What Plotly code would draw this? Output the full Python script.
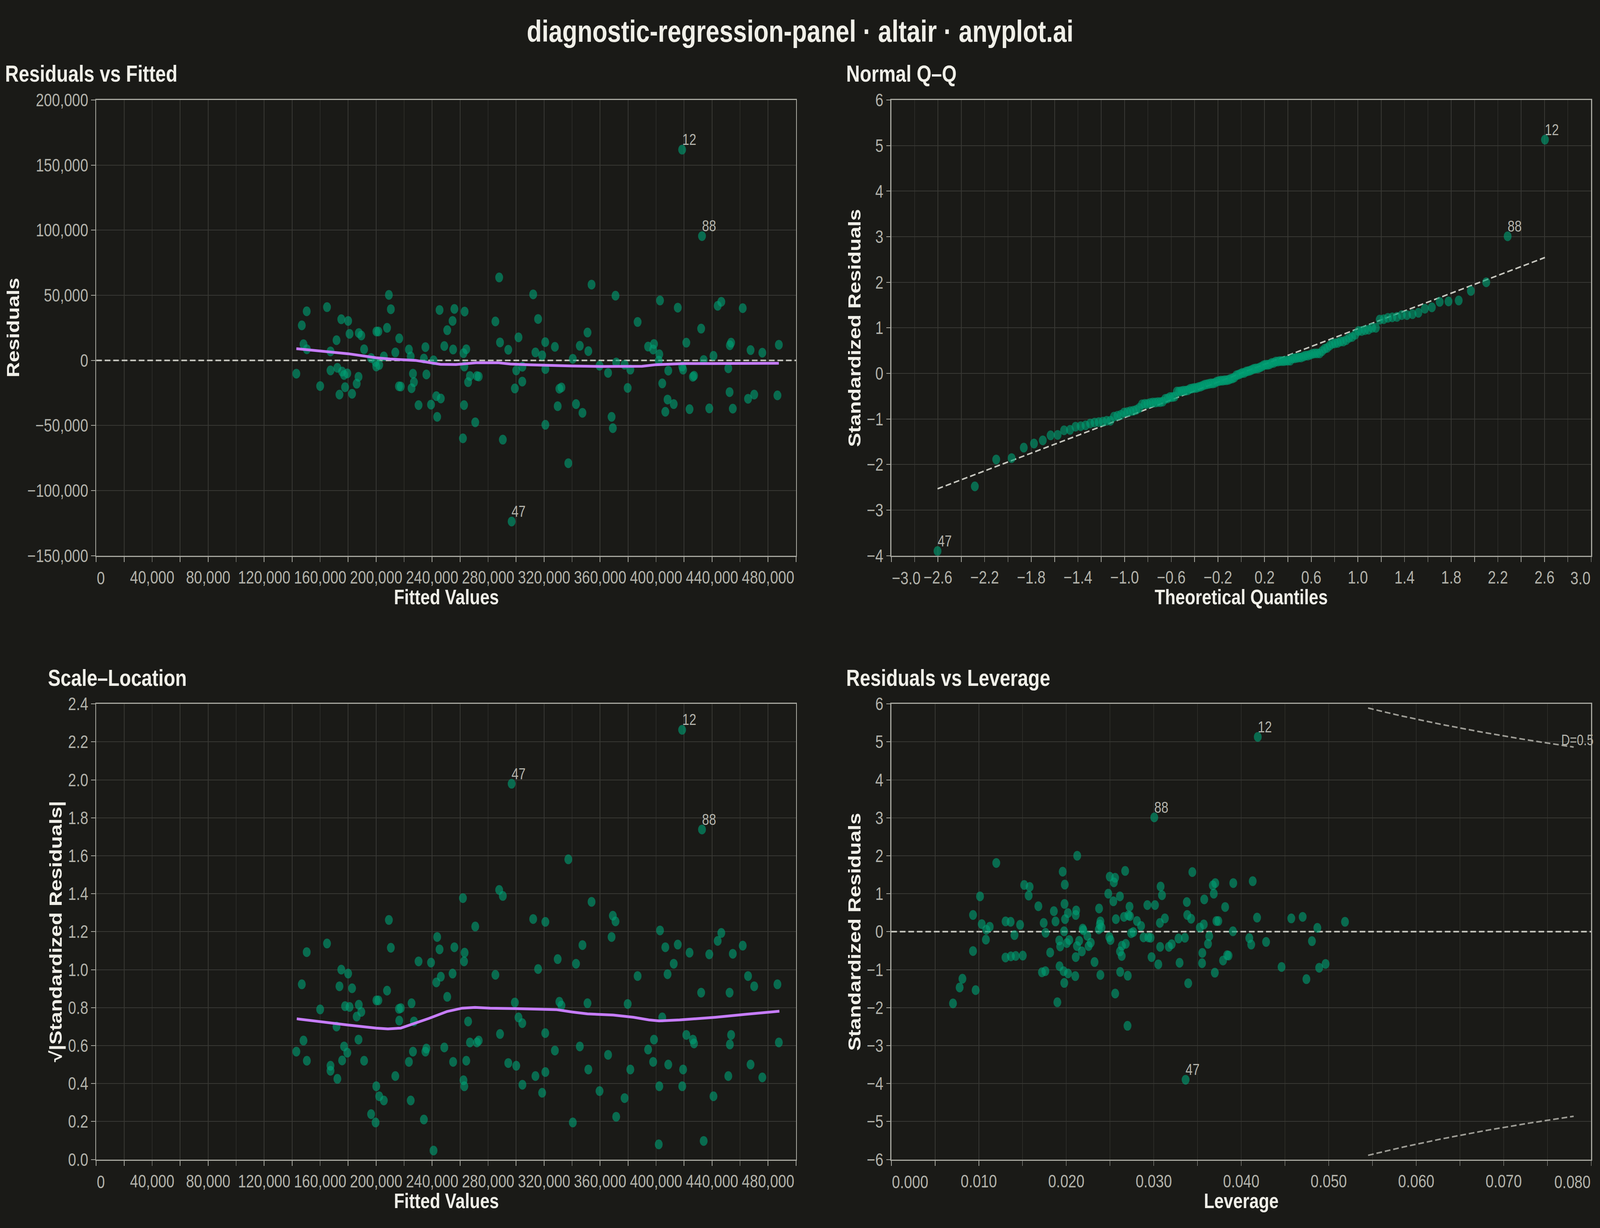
import numpy as np
import plotly.graph_objects as go
from statistics import NormalDist

# ---------------- data ----------------
fitted = [
    143000, 146900, 150400, 148100, 150500, 160000, 164900, 167400, 171700, 167400,
    172300, 175100, 180000, 175700, 177100, 179400, 181000, 177800, 173800, 182800,
    186100, 187400, 187600, 189400, 191400, 196400, 200200, 201600, 199600, 200100,
    202200, 205500, 207800, 209100, 210500, 216500, 213700, 216300, 217600, 223400,
    224700, 226300, 227000, 225300, 230300, 234100, 235200, 235900, 241000, 239200,
    243000, 246200, 243600, 245300, 250800, 248700, 254600, 255900, 255000, 263200,
    262400, 264400, 263000, 267000, 265700, 272000, 273300, 262800, 270800, 262000,
    287900, 285200, 288500, 294400, 301700, 300100, 304500, 304400, 299100, 290500,
    296800, 312200, 315700, 313800, 318600,
    320800, 320900, 320900, 327700, 337300, 330900, 332400, 329700, 340500, 345500,
    351000, 351600, 353900, 342800, 347400, 359600, 365700, 371000, 371500, 377500,
    381600, 379700, 368200, 369100, 386800, 394300, 398500, 397900, 402300, 401900,
    402800, 408700, 404400, 408200, 412600, 406600, 415500, 418600, 421600, 418700,
    419300, 426300, 427100, 423900, 432800, 432200, 434000, 441000, 444000, 446600,
    438000, 452700, 453600, 451600, 452500, 454800, 461900, 467500, 475900, 465700,
    470100, 487700, 486700,
]
residuals = [
    -10200, 26900, 37700, 12400, 8550, -19750, 40900, 6900, 15500, -7700,
    -5700, 31600, 30300, -8600, -11200, -10000, 20400, -20600, -26300, -25700,
    -17900, -12600, 21000, 19100, 8550, 1800, 22200, 22200, -1200, -4700,
    -3500, 3050, 25000, 50300, 39300, 16900, 6100, -19900, -20100, 8350,
    3050, -10200, -16700, -21400, -34400, 1400, 10200, -10800, 70, -34000,
    -27500, -29300, -43400, 38700, 23200, 11000, 30300, 39500, 8350, 37500,
    5500, 8550, -4700, -12000, -16700, -12000, -12400, -34400, -47600, -59900,
    63700, 29900, 13800, 8150, 17700, -7700, -4900, -16300, -21600, -60900,
    -123800, 50700, 31800, 6100, 3900,
    14000, -6700, -49500, 10400, -79000, -21800, -20800, -35200, 1200, 11200,
    21400, 7100, 58200, -33600, -40300, -4100, -9600, 49700, -1600, -3300,
    -7100, -21200, -43400, -52100, 29500, 10600, 12600, 8350, 4700, -200,
    46000, -7900, -17700, -30100, -33600, -39500, 40500, 161900, 13600, -4700,
    -7100, -12600, -11800, -37500, 95500, 24400, 300, 3500, 41900, 45000,
    -36900, 11600, 13600, -6100, -24400, -37100, 40100, 7900, 5900, -29500,
    -26300, 12000, -26900,
]
leverage = [
    0.00705, 0.00781, 0.00813, 0.00934, 0.00934, 0.00964, 0.01014, 0.01034, 0.01086, 0.01125,
    0.01081, 0.01200, 0.01306, 0.01364, 0.01305, 0.01367, 0.01422, 0.01408, 0.01472, 0.01503,
    0.01519, 0.01581, 0.01570, 0.01681, 0.01742, 0.01763, 0.01722, 0.01761, 0.01816, 0.01858,
    0.01877, 0.01898, 0.01920, 0.01930, 0.01923, 0.01969, 0.01977, 0.01959, 0.01983, 0.01980,
    0.01986, 0.01975, 0.02019, 0.02006, 0.02034, 0.02020, 0.02125, 0.02113, 0.02108, 0.02103,
    0.02108, 0.02122, 0.02147, 0.02188, 0.02195, 0.02241, 0.02178, 0.02255, 0.02280, 0.02323,
    0.02375, 0.02390, 0.02384, 0.02403, 0.02372, 0.02390, 0.02497, 0.02558, 0.02544, 0.02480,
    0.02538, 0.02673, 0.02613, 0.02567, 0.02660, 0.02710, 0.02728, 0.02723, 0.02492, 0.02505,
    0.02636, 0.02680, 0.02614, 0.02634, 0.02616, 0.02703, 0.02559, 0.02700, 0.02742, 0.02766,
    0.02808, 0.02855,
    0.02883, 0.02938, 0.02964, 0.02927, 0.03014, 0.03006, 0.03078, 0.03094, 0.03070, 0.03127,
    0.02975, 0.03052, 0.03073, 0.03173, 0.03205, 0.03283, 0.03295, 0.03356, 0.03378, 0.03383,
    0.03427, 0.03441, 0.03394, 0.03364, 0.03527, 0.03572, 0.03577, 0.03634, 0.03620, 0.03555,
    0.03552, 0.03675, 0.03703, 0.03686, 0.03716, 0.03738, 0.03698, 0.03816, 0.03792, 0.03839,
    0.03855, 0.03905, 0.03909, 0.04131, 0.04181, 0.04189, 0.04092, 0.04114, 0.04284, 0.04461,
    0.04572, 0.04702, 0.04745, 0.04808, 0.04870, 0.04891, 0.04964, 0.05186,
]
std_residuals = [
    -1.89, -1.47, -1.24, -0.51, 0.44, -1.54, 0.93, 0.20, 0.05, 0.13,
    -0.21, 1.81, 0.27, 0.26, -0.68, -0.65, -0.64, -0.09, 0.18, -0.63,
    1.23, 1.18, 0.95, 0.67, 0.23, -0.03, -1.07, -1.04, -0.55, 0.54,
    0.27, -1.86, -0.23, -0.39, -0.91, -1.04, -1.35, 1.58, 1.24, 0.73,
    0.33, 0.01, 0.49, -0.30, -0.22, -1.10, 2.00, 0.56, 0.44, -1.17,
    -0.67, -0.38, -0.24, 0.08, 0.04, -0.11, -0.52, -0.38, -0.29, -0.80,
    0.61, 0.27, 0.19, 0.11, 0.06, -1.14, 1.45, 1.42, 1.30, 1.00,
    0.80, 1.60, 0.93, 0.33, 0.39, 0.43, 0.41, 0.66, -0.14, -0.22,
    -0.37, -0.32, -0.52, -0.64, -1.06, -1.16, -1.63, -2.48, -0.04, -0.01,
    0.28, 0.15,
    -0.15, -0.15, -0.16, 0.70, 0.70, 3.01, 1.19, 0.96, 0.23, 0.35,
    -0.67, -0.86, -0.40, -0.40, -0.33, -0.18, -0.82, -0.16, 0.78, 0.44,
    0.34, 1.57, -1.36, -3.90, 0.11, 0.19, 0.85, -0.12, -0.32, -0.56,
    -0.83, 1.22, 1.28, 1.00, 0.28, 0.28, -1.08, 0.65, -0.76, -0.62,
    -0.63, 0.01, 1.28, 1.33, 0.37, 5.13, -0.17, -0.34, -0.27, -0.93,
    0.35, 0.39, -1.25, -0.25, 0.10, -0.95, -0.85, 0.26,
]
loess_fit_x = [143000, 160000, 180000, 200000, 210000, 228000, 240000, 246000, 257000, 265000,
               272000, 287000, 296000, 310000, 320000, 340000, 360000, 380000, 390000, 400000,
               410000, 420000, 440000, 460000, 487700]
loess_fit_y = [9000, 7300, 5100, 2000, 1000, 0, -1800, -3000, -3200, -2600,
               -1800, -1800, -2800, -3400, -3800, -4300, -4700, -4800, -4500, -3300,
               -2700, -2400, -2400, -2300, -2200]
loess_sl_x = [143300, 160900, 180300, 200000, 208400, 217600, 226700, 237700, 250500, 261400,
              270600, 281500, 299800, 318100, 329000, 340000, 351000, 369300, 383900, 394900,
              402200, 416800, 442400, 464400, 488100]
loess_sl_y = [0.741, 0.724, 0.708, 0.692, 0.688, 0.692, 0.714, 0.743, 0.779, 0.797,
              0.801, 0.797, 0.795, 0.793, 0.789, 0.777, 0.767, 0.761, 0.749, 0.735,
              0.730, 0.735, 0.749, 0.765, 0.781]
outlier_ids = [12, 47, 88]          # labels, in order of decreasing |residual|
resid_scale = 31600                 # residual standard error
qq_slope, qq_intercept = 0.975, 0.005
cook_level, n_params = 0.5, 4
cook_lev_start, cook_lev_end = 0.0545, 0.078

# ---------------- style ----------------
W, H = 5073, 3144
BG = "#1a1a17"
TXT = "#f0efe8"
TICK_TXT = "#b3b3ab"
GRID = "#383834"
AXIS = "#a8a8a0"
PT = "#009E73"
LOESS = "#C77DFF"
REF = "#c8c8c0"
FONT = "Liberation Sans, Arial, sans-serif"
TICK_SIZE = 46
LBL_SIZE = 40
TITLE_SIZE = 78
PANEL_TITLE_SIZE = 60
AXIS_TITLE_SIZE = 54


def px(x):
    return x / W


def py(y):
    return 1 - y / H


fitted_a = np.array(fitted, float)
resid_a = np.array(residuals, float)
lev_a = np.array(leverage, float)
sr_a = np.array(std_residuals, float)
scale_loc = np.sqrt(np.abs(resid_a) / resid_scale)

# theoretical quantiles (Filliben plotting positions)
n = len(sr_a)
pos = (np.arange(1, n + 1) - 0.3175) / (n + 0.365)
pos[-1] = 0.5 ** (1 / n)
pos[0] = 1 - pos[-1]
nd = NormalDist()
theo = np.array([nd.inv_cdf(p) for p in pos])
sr_sorted = np.sort(sr_a)

fig = go.Figure()

X_DOM_L = [px(305), px(2524)]
X_DOM_R = [px(2826), px(5045)]
Y_DOM_T = [py(1420), py(234)]
Y_DOM_B = [py(2992), py(1806)]


def fmt_num(v, dec=0, comma=False):
    s = f"{v:,.{dec}f}" if comma else f"{v:.{dec}f}"
    return s.replace("-", "\u2212")


def x_ticks(start, stop, step, every, dec, comma=False):
    vals = [round(start + i * step, 10) for i in range(int(round((stop - start) / step)) + 1)]
    text = []
    for i, v in enumerate(vals):
        if i == 0 or (i == len(vals) - 1):
            text.append("")
        elif i % every == 0:
            text.append(fmt_num(v, dec, comma))
        else:
            text.append("")
    return vals, text


def y_ticks(start, stop, step, dec, comma=False):
    vals = [round(start + i * step, 10) for i in range(int(round((stop - start) / step)) + 1)]
    return vals, [fmt_num(v, dec, comma) for v in vals]


axis_common = dict(
    showgrid=True, gridcolor=GRID, gridwidth=2,
    showline=True, linecolor=AXIS, linewidth=3, mirror=True,
    ticks="outside", ticklen=13, tickwidth=2, tickcolor=AXIS,
    tickfont=dict(family=FONT, size=TICK_SIZE, color=TICK_TXT),
    zeroline=False, fixedrange=True,
)

fx_vals, fx_text = x_ticks(0, 500000, 20000, 2, 0, comma=True)
r_vals, r_text = y_ticks(-150000, 200000, 50000, 0, comma=True)
qx_vals, qx_text = x_ticks(-3.0, 3.0, 0.2, 2, 1)
qy_vals, qy_text = y_ticks(-4, 6, 1, 0)
sy_vals, sy_text = y_ticks(0, 2.4, 0.2, 1)
lx_vals, lx_text = x_ticks(0, 0.08, 0.005, 2, 3)
ly_vals, ly_text = y_ticks(-6, 6, 1, 0)

fig.update_layout(
    xaxis=dict(axis_common, domain=X_DOM_L, anchor="y", range=[0, 500000],
               tickvals=fx_vals, ticktext=fx_text),
    yaxis=dict(axis_common, domain=Y_DOM_T, anchor="x", range=[-150000, 200000],
               tickvals=r_vals, ticktext=r_text),
    xaxis2=dict(axis_common, domain=X_DOM_R, anchor="y2", range=[-3, 3],
                tickvals=qx_vals, ticktext=qx_text),
    yaxis2=dict(axis_common, domain=Y_DOM_T, anchor="x2", range=[-4, 6],
                tickvals=qy_vals, ticktext=qy_text),
    xaxis3=dict(axis_common, domain=X_DOM_L, anchor="y3", range=[0, 500000],
                tickvals=fx_vals, ticktext=fx_text),
    yaxis3=dict(axis_common, domain=Y_DOM_B, anchor="x3", range=[0, 2.4],
                tickvals=sy_vals, ticktext=sy_text),
    xaxis4=dict(axis_common, domain=X_DOM_R, anchor="y4", range=[0, 0.08],
                tickvals=lx_vals, ticktext=lx_text),
    yaxis4=dict(axis_common, domain=Y_DOM_B, anchor="x4", range=[-6, 6],
                tickvals=ly_vals, ticktext=ly_text),
)

dash_ref = "18px,9px"
marker = dict(color=PT, size=25, opacity=0.62, line=dict(width=0))

# Panel 1: residuals vs fitted
fig.add_trace(go.Scatter(x=[0, 500000], y=[0, 0], mode="lines", xaxis="x", yaxis="y",
                         line=dict(color=REF, width=4, dash=dash_ref), hoverinfo="skip"))
fig.add_trace(go.Scatter(x=fitted_a, y=resid_a, mode="markers", xaxis="x", yaxis="y", marker=marker))
fig.add_trace(go.Scatter(x=loess_fit_x, y=loess_fit_y, mode="lines", xaxis="x", yaxis="y",
                         line=dict(color=LOESS, width=7), hoverinfo="skip"))

# Panel 2: normal Q-Q
qq_x = np.array([theo.min(), theo.max()])
fig.add_trace(go.Scatter(x=qq_x, y=qq_slope * qq_x + qq_intercept, mode="lines", xaxis="x2", yaxis="y2",
                         line=dict(color=REF, width=4, dash=dash_ref), hoverinfo="skip"))
fig.add_trace(go.Scatter(x=theo, y=sr_sorted, mode="markers", xaxis="x2", yaxis="y2", marker=marker))

# Panel 3: scale-location
fig.add_trace(go.Scatter(x=fitted_a, y=scale_loc, mode="markers", xaxis="x3", yaxis="y3", marker=marker))
fig.add_trace(go.Scatter(x=loess_sl_x, y=loess_sl_y, mode="lines", xaxis="x3", yaxis="y3",
                         line=dict(color=LOESS, width=7), hoverinfo="skip"))

# Panel 4: residuals vs leverage
fig.add_trace(go.Scatter(x=[0, 0.08], y=[0, 0], mode="lines", xaxis="x4", yaxis="y4",
                         line=dict(color=REF, width=4, dash=dash_ref), hoverinfo="skip"))
h = np.linspace(cook_lev_start, cook_lev_end, 80)
cook_y = np.sqrt(cook_level * n_params * (1 - h) / h)
for sgn in (1, -1):
    fig.add_trace(go.Scatter(x=h, y=sgn * cook_y, mode="lines", xaxis="x4", yaxis="y4",
                             line=dict(color="#9e9d96", width=4, dash=dash_ref), hoverinfo="skip"))
fig.add_trace(go.Scatter(x=lev_a, y=sr_a, mode="markers", xaxis="x4", yaxis="y4", marker=marker))

ann = []


def label(x, y, text, xr, yr):
    ann.append(dict(x=x, y=y, xref=xr, yref=yr, text=text, showarrow=False,
                    xanchor="left", yanchor="bottom", yshift=2, xshift=-2,
                    font=dict(family=FONT, size=LBL_SIZE, color=TICK_TXT)))


order_r = np.argsort(-np.abs(resid_a))[:3]
for oid, i in zip(outlier_ids, order_r):
    label(fitted_a[i], resid_a[i], str(oid), "x", "y")
    label(fitted_a[i], scale_loc[i], str(oid), "x3", "y3")
order_s = np.argsort(-np.abs(sr_a))[:3]
for oid, i in zip(outlier_ids, order_s):
    label(lev_a[i], sr_a[i], str(oid), "x4", "y4")
    j = int(np.where(sr_sorted == sr_a[i])[0][0])
    label(theo[j], sr_sorted[j], str(oid), "x2", "y2")

ann.append(dict(x=h[-1], y=cook_y[-1], xref="x4", yref="y4", text=f"D={cook_level}", showarrow=False,
                xanchor="left", yanchor="middle", xshift=-42, yshift=18,
                font=dict(family=FONT, size=38, color=TICK_TXT)))


# flush edge tick labels
def flush(xr, yr, x, text, anchor):
    ann.append(dict(x=x, y=0, xref=xr, yref=yr + " domain", text=text, showarrow=False,
                    xanchor=anchor, yanchor="top", yshift=-29,
                    font=dict(family=FONT, size=TICK_SIZE, color=TICK_TXT)))


flush("x", "y", 0, "0", "left")
flush("x3", "y3", 0, "0", "left")
flush("x2", "y2", -3.0, fmt_num(-3.0, 1), "left")
flush("x2", "y2", 3.0, fmt_num(3.0, 1), "right")
flush("x4", "y4", 0, fmt_num(0, 3), "left")
flush("x4", "y4", 0.08, fmt_num(0.08, 3), "right")


# titles
def text(x, y, s, size, xanchor="left", angle=0):
    ann.append(dict(x=x, y=y, xref="paper", yref="paper", text=f"<b>{s}</b>", showarrow=False,
                    xanchor=xanchor, yanchor="middle", textangle=angle,
                    font=dict(family=FONT, size=size, color=TXT)))


text(0.5, py(55), "diagnostic-regression-panel · altair · anyplot.ai", TITLE_SIZE, "center")
text(px(14), py(165), "Residuals vs Fitted", PANEL_TITLE_SIZE)
text(px(2681), py(165), "Normal Q\u2013Q", PANEL_TITLE_SIZE)
text(px(150), py(1738), "Scale\u2013Location", PANEL_TITLE_SIZE)
text(px(2681), py(1738), "Residuals vs Leverage", PANEL_TITLE_SIZE)

text(px(1415), py(1527), "Fitted Values", AXIS_TITLE_SIZE, "center")
text(px(3935), py(1527), "Theoretical Quantiles", AXIS_TITLE_SIZE, "center")
text(px(1415), py(3099), "Fitted Values", AXIS_TITLE_SIZE, "center")
text(px(3935), py(3099), "Leverage", AXIS_TITLE_SIZE, "center")
text(px(42), py(827), "Residuals", AXIS_TITLE_SIZE, "center", -90)
text(px(2710), py(827), "Standardized Residuals", AXIS_TITLE_SIZE, "center", -90)
text(px(178), py(2399), "\u221a|Standardized Residuals|", AXIS_TITLE_SIZE, "center", -90)
text(px(2710), py(2399), "Standardized Residuals", AXIS_TITLE_SIZE, "center", -90)

fig.update_layout(
    annotations=ann,
    width=W, height=H,
    margin=dict(l=0, r=0, t=0, b=0),
    paper_bgcolor=BG, plot_bgcolor=BG,
    showlegend=False,
    font=dict(family=FONT, color=TXT),
)

# The browser viewport may be smaller than the 5073x3144 design size:
# map the design canvas onto the whole viewport.
fit_js = """
(function () {
  var gd = document.getElementById('{plot_id}');
  var de = document.documentElement, b = document.body;
  de.style.margin = '0'; b.style.margin = '0';
  de.style.overflow = 'hidden'; b.style.overflow = 'hidden';
  de.style.background = '%s'; b.style.background = '%s';
  var sx = window.innerWidth / %d, sy = window.innerHeight / %d;
  if (sx > 0 && sy > 0 && (Math.abs(sx - 1) > 1e-3 || Math.abs(sy - 1) > 1e-3)) {
    gd.style.transformOrigin = '0 0';
    gd.style.transform = 'scale(' + sx + ',' + sy + ')';
  }
})();
""" % (BG, BG, W, H)

fig.write_html("out.html", config={"displayModeBar": False, "responsive": False}, post_script=fit_js)
